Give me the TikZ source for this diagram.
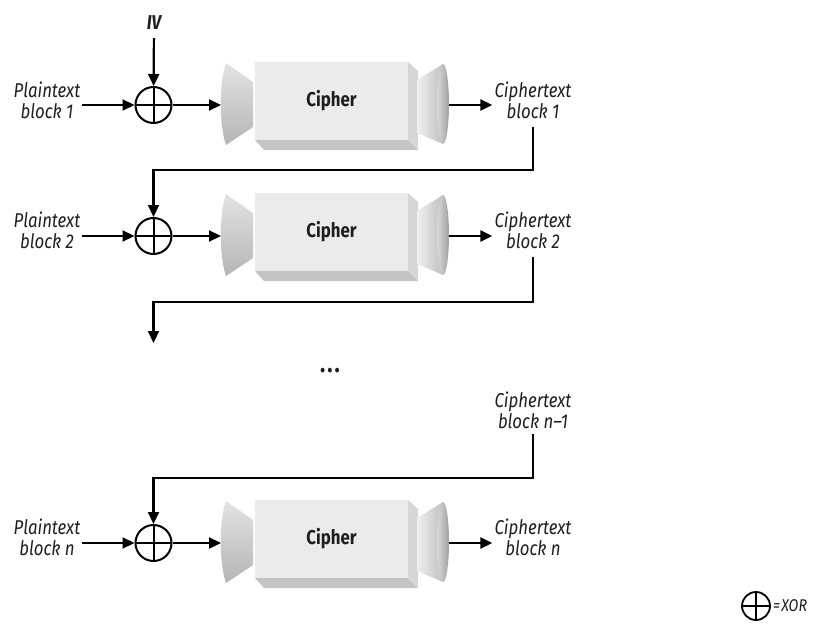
\documentclass[tikz,border=0pt]{standalone}
\usepackage{fontspec}
\setmainfont{Fira Sans}[FakeStretch=0.84]
\usetikzlibrary{arrows.meta,calc}
\definecolor{txt}{HTML}{1E1E1E}
\definecolor{face}{HTML}{EBEBEB}
\definecolor{sidec}{HTML}{D6D6D6}
\definecolor{bottomc}{HTML}{C4C4C4}
\tikzset{
  lbl/.style={font=\fontsize{20}{21}\selectfont\itshape, text=txt, align=center, inner sep=2pt},
  conn/.style={line width=2.2pt, -{Triangle[length=12pt,width=11pt]}},
  xorc/.style={circle, draw, line width=2pt, minimum size=36pt, inner sep=0pt,
    path picture={\draw[line width=2pt] (path picture bounding box.north) -- (path picture bounding box.south)
      (path picture bounding box.west) -- (path picture bounding box.east);}},
  facebox/.style={fill=face, minimum width=153pt, minimum height=78pt, inner sep=0pt,
    font=\fontsize{20}{22}\selectfont\bfseries, text=txt},
}
\newcommand\cipherunit[2]{%
  \fill[bottomc] (255,#2+35) -- (264,#2+45) -- (418,#2+45) -- (408,#2+35) -- cycle;
  \fill[sidec] (408,#2-43) -- (418,#2-34) -- (418,#2+45) -- (408,#2+35) -- cycle;
  \node[facebox] (#1) at (331.5,#2-4) {Cipher};
  \shade[top color=gray!22, bottom color=gray!58] (253,#2-23) -- (226,#2-42)
     .. controls (219,#2-22) and (219,#2+20) .. (226,#2+40) -- (253,#2+22) -- cycle;
  \shade[left color=gray!12, right color=gray!50] (417,#2-25) -- (443,#2-41) -- (443,#2+39) -- (417,#2+28) -- cycle;
  \shade[left color=gray!30, middle color=gray!100, right color=gray!75] (443,#2-1) ellipse [x radius=6, y radius=40];
  \coordinate (#1in) at (221,#2);
  \coordinate (#1out) at (449,#2);
}
\begin{document}
\begin{tikzpicture}[x=1pt,y=-1pt]
\useasboundingbox (0,0) rectangle (823,626);

% row 1
\node[lbl, font=\fontsize{20}{21}\selectfont\bfseries\itshape] (iv) at (154,23) {IV};
\node[lbl] (p1) at (47,100) {Plaintext\\block 1};
\node[xorc] (x1) at (153.5,105) {};
\cipherunit{c1}{105}
\node[lbl] (k1) at (533,100) {Ciphertext\\block 1};

% row 2
\node[lbl] (p2) at (47,230) {Plaintext\\block 2};
\node[xorc] (x2) at (153.5,236) {};
\cipherunit{c2}{236}
\node[lbl] (k2) at (533,230) {Ciphertext\\block 2};

% gap
\coordinate (f1) at (0,170);
\coordinate (f2) at (0,302);
\coordinate (g) at (153.5,343);
\node[font=\fontsize{26}{26}\selectfont\bfseries, text=txt] (dots) at (330,371) {.\kern2pt.\kern2pt.};

% row n
\node[lbl] (kn1) at (533,410) {Ciphertext\\block n–1};
\coordinate (fn) at (0,478);
\node[lbl] (pn) at (47,537) {Plaintext\\block n};
\node[xorc] (xn) at (153.5,543) {};
\cipherunit{cn}{543}
\node[lbl] (kn) at (533,537) {Ciphertext\\block n};

% legend
\node[xorc, minimum size=28pt, line width=1.8pt] (lx) at (756,606) {};
\node[lbl, font=\fontsize{17}{18}\selectfont\itshape, anchor=west, inner sep=1pt] (lt) at (772,606) {=\kern1pt XOR};

% connectors
\draw[conn, shorten <=6pt] (iv) -- (x1);
\foreach \r in {1,2,n}{
  \draw[conn] (p\r.east |- x\r.west) -- (x\r.west);
  \draw[conn] (x\r.east) -- (c\r in);
  \draw[conn] (c\r out) -- (k\r.west |- c\r out);
}
\draw[conn, shorten <=6pt] (k1.south) -- (k1.south |- f1) -| (x2.north);
\draw[conn, shorten <=6pt] (k2.south) -- (k2.south |- f2) -| (g);
\draw[conn, shorten <=3pt] (kn1.south) -- (kn1.south |- fn) -| (xn.north);
\end{tikzpicture}
\end{document}
